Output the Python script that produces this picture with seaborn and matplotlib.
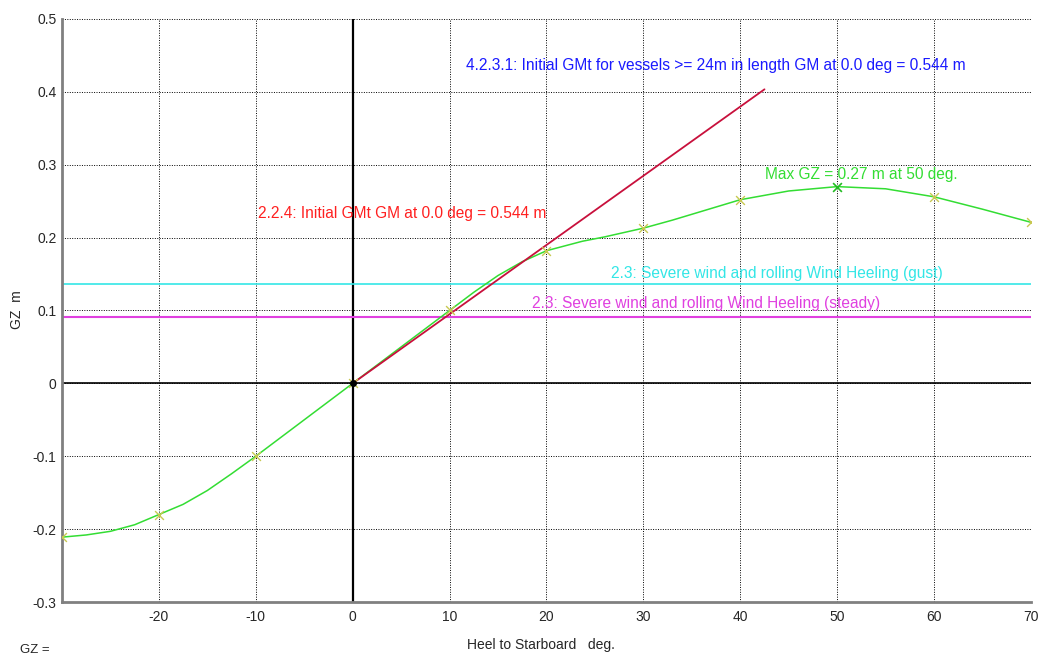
import numpy as np
import pandas as pd
import matplotlib
matplotlib.use('Agg')
import matplotlib.pyplot as plt
import seaborn as sns

sns.set_style('white')
plt.rcParams['font.family'] = ['Liberation Sans', 'DejaVu Sans']
plt.rcParams['axes.unicode_minus'] = False

# GZ curve (heel deg, GZ m)
heel = [-30, -27.5, -25, -22.5, -20, -17.5, -15, -12.5, -10, -5, 0, 5, 10, 12.5, 15, 17.5, 20,
        23.7, 26, 30, 33, 36, 40, 45, 50, 55, 60, 65, 70]
gz = [-0.211, -0.208, -0.203, -0.194, -0.180, -0.166, -0.147, -0.124, -0.100, -0.050, 0.0, 0.050,
      0.100, 0.125, 0.148, 0.167, 0.182, 0.195, 0.201, 0.213, 0.224, 0.236, 0.252, 0.264, 0.270,
      0.267, 0.256, 0.239, 0.221]
marker_heel = [-30, -20, -10, 0, 10, 20, 30, 40, 60, 70]
marker_gz = [-0.211, -0.180, -0.100, 0.0, 0.100, 0.182, 0.213, 0.252, 0.256, 0.221]
max_heel, max_gz = 50, 0.270

# initial GM line
gm = 0.544
gm_heel = [0, 42.5]
gm_gz = [0, gm * 42.5 / 57.3]

gust = 0.136
steady = 0.091

xticks = [-20, -10, 0, 10, 20, 30, 40, 50, 60, 70]
yticks = [-0.3, -0.2, -0.1, 0, 0.1, 0.2, 0.3, 0.4, 0.5]
ylabels = ['-0.3', '-0.2', '-0.1', '0', '0.1', '0.2', '0.3', '0.4', '0.5']

fig = plt.figure(figsize=(10.4, 6.57), dpi=100)
ax = fig.add_axes([0.0596, 0.0837, 0.9317, 0.8874])

ax.set_xlim(-30, 70)
ax.set_ylim(-0.3, 0.5)
ax.set_xticks(xticks)
ax.set_yticks(yticks)
ax.set_yticklabels(ylabels)
ax.grid(True, color='black', linestyle=(0, (1, 1.5)), linewidth=0.7)
ax.set_axisbelow(True)

ax.axhline(0, color='black', lw=1.2, zorder=2)
ax.axvline(0, color='black', lw=1.6, zorder=2)
ax.axhline(gust, color='#33e6e6', lw=1.2, zorder=2)
ax.axhline(steady, color='#e040e0', lw=1.5, zorder=2)

df = pd.DataFrame({'heel': heel, 'gz': gz})
sns.lineplot(data=df, x='heel', y='gz', color='#33dd33', lw=1.1, ax=ax, zorder=3)
sns.lineplot(x=gm_heel, y=gm_gz, color='#c8103c', lw=1.3, ax=ax, zorder=4)
sns.scatterplot(x=marker_heel, y=marker_gz, marker='x', color='#c8c850', s=40, linewidth=1, ax=ax, zorder=5)
sns.scatterplot(x=[max_heel], y=[max_gz], marker='x', color='#22bb22', s=40, linewidth=1.2, ax=ax, zorder=5)
ax.plot([0], [0], 'o', color='black', ms=4, zorder=6)

fs = 11.2
ax.text(11.66, 0.436, '4.2.3.1: Initial GMt for vessels >= 24m in length GM at 0.0 deg = 0.544 m',
        color='#1a1aff', fontsize=fs, va='center')
ax.text(-9.8, 0.233, '2.2.4: Initial GMt GM at 0.0 deg = 0.544 m', color='#ff2020', fontsize=fs, va='center')
ax.text(42.6, 0.287, 'Max GZ = 0.27 m at 50 deg.', color='#33dd33', fontsize=fs, va='center')
ax.text(26.7, 0.151, '2.3: Severe wind and rolling Wind Heeling (gust)', color='#33e6e6', fontsize=fs, va='center')
ax.text(18.5, 0.110, '2.3: Severe wind and rolling Wind Heeling (steady)', color='#e040e0', fontsize=fs, va='center')

for s in ['top', 'right']:
    ax.spines[s].set_visible(False)
for s in ['left', 'bottom']:
    ax.spines[s].set_color('#808080')
    ax.spines[s].set_linewidth(2)
ax.tick_params(axis='both', labelsize=10, length=3, color='#808080', pad=1, direction='out')
ax.tick_params(axis='x', pad=3)

ax.set_xlabel('')
ax.set_ylabel('')
fig.text(541 / 1040, 1 - 645 / 657, 'Heel to Starboard   deg.', fontsize=10, ha='center', va='center')
fig.text(17 / 1040, 1 - 310 / 657, 'GZ  m', fontsize=10, ha='center', va='center', rotation=90)
fig.text(0.019, 1 - 650 / 657, 'GZ =', fontsize=9.5, va='center')

plt.savefig('out.png', dpi=100)
